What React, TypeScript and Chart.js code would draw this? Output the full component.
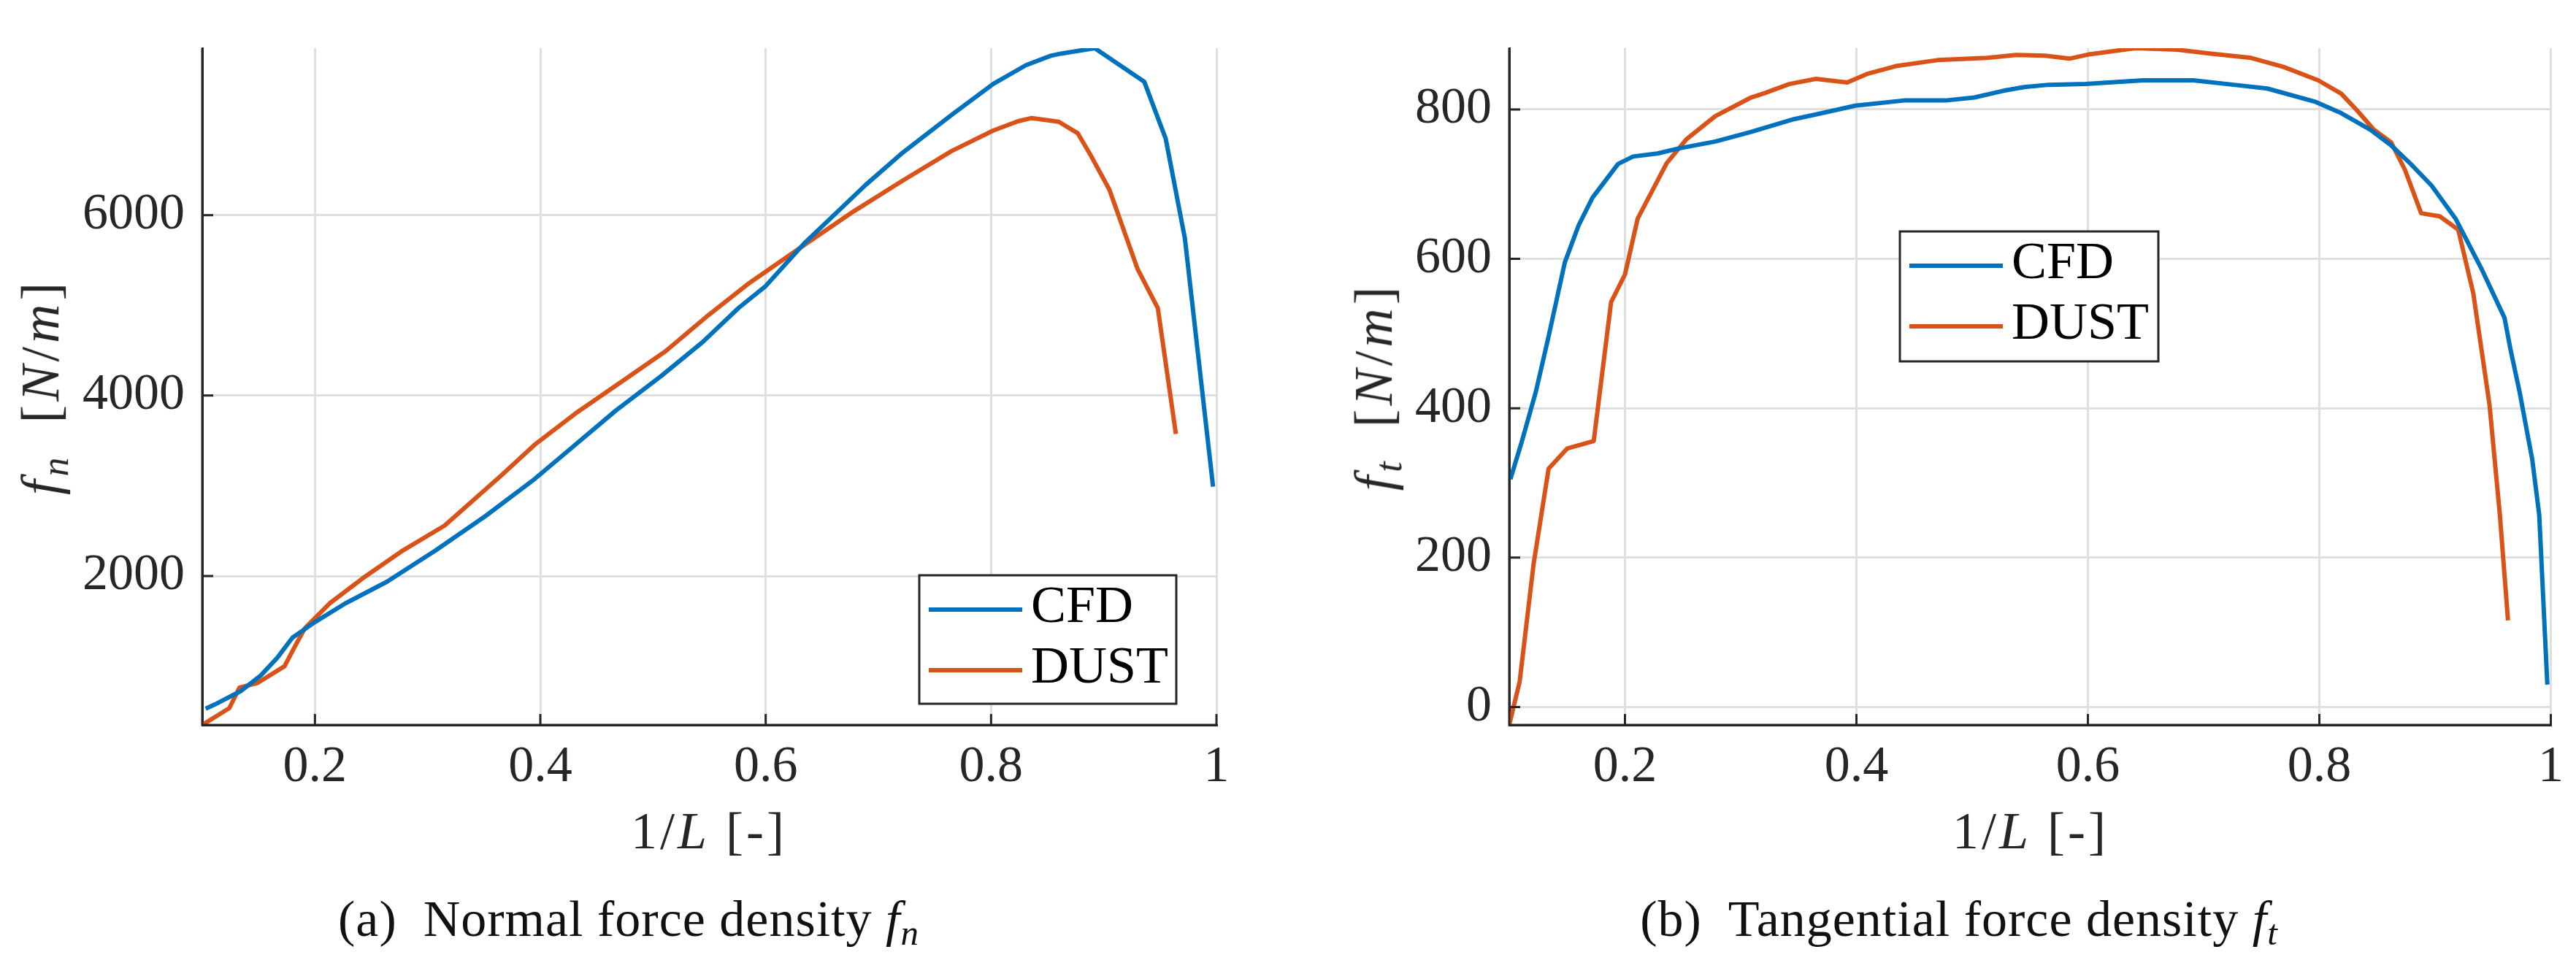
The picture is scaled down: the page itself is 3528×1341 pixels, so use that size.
import React, { useEffect, useRef } from "react";
import { Chart, registerables } from "chart.js";

Chart.register(...registerables);

// ---------- data ----------
const seriesLabels = ["CFD", "DUST"];
const xTicks = [0.2, 0.4, 0.6, 0.8, 1];
const fnYTicks = [2000, 4000, 6000];
const ftYTicks = [0, 200, 400, 600, 800];

// (a) normal force density
const fnCfdX = [0.103, 0.111, 0.134, 0.152, 0.167, 0.18, 0.2, 0.227, 0.264, 0.307, 0.351, 0.395, 0.431, 0.467, 0.507, 0.544, 0.576, 0.6, 0.635, 0.664, 0.689, 0.722, 0.765, 0.802, 0.831, 0.853, 0.862, 0.892, 0.936, 0.955, 0.972, 0.997];
const fnCfdY = [530, 576, 724, 899, 1101, 1317, 1490, 1697, 1938, 2283, 2662, 3076, 3455, 3834, 4214, 4593, 4972, 5214, 5697, 6041, 6338, 6697, 7110, 7455, 7662, 7766, 7790, 7850, 7477, 6846, 5742, 2990];
const fnDustX = [0.1, 0.124, 0.133, 0.149, 0.173, 0.182, 0.191, 0.213, 0.242, 0.278, 0.315, 0.365, 0.395, 0.431, 0.475, 0.511, 0.547, 0.584, 0.635, 0.678, 0.722, 0.765, 0.802, 0.824, 0.836, 0.86, 0.877, 0.889, 0.905, 0.93, 0.948, 0.964];
const fnDustY = [350, 536, 764, 815, 1000, 1214, 1421, 1697, 1972, 2283, 2559, 3110, 3455, 3800, 4179, 4490, 4869, 5234, 5676, 6041, 6386, 6710, 6938, 7041, 7076, 7035, 6906, 6650, 6282, 5403, 4968, 3575];

// (b) tangential force density
const ftCfdX = [0.101, 0.111, 0.123, 0.134, 0.148, 0.16, 0.172, 0.194, 0.207, 0.228, 0.247, 0.278, 0.309, 0.346, 0.37, 0.399, 0.441, 0.477, 0.502, 0.527, 0.545, 0.566, 0.598, 0.648, 0.691, 0.726, 0.755, 0.797, 0.819, 0.844, 0.862, 0.879, 0.897, 0.918, 0.94, 0.96, 0.965, 0.973, 0.984, 0.99, 0.997];
const ftCfdY = [305, 356, 422, 496, 595, 645, 682, 727, 737, 741, 748, 757, 770, 787, 795, 805, 812, 812, 816, 825, 830, 833, 834, 839, 839, 833, 828, 810, 795, 773, 752, 727, 698, 653, 587, 521, 480, 422, 331, 257, 30];
const ftDustX = [0.1, 0.109, 0.121, 0.134, 0.15, 0.173, 0.188, 0.2, 0.211, 0.236, 0.253, 0.278, 0.309, 0.321, 0.342, 0.365, 0.392, 0.41, 0.434, 0.47, 0.513, 0.538, 0.563, 0.584, 0.602, 0.641, 0.677, 0.705, 0.741, 0.769, 0.799, 0.819, 0.833, 0.847, 0.862, 0.874, 0.888, 0.904, 0.92, 0.933, 0.947, 0.956, 0.963];
const ftDustY = [-24, 34, 191, 319, 346, 356, 542, 579, 654, 728, 760, 791, 816, 822, 834, 841, 836, 848, 858, 866, 869, 873, 872, 868, 874, 882, 880, 875, 869, 857, 839, 821, 798, 773, 756, 719, 661, 657, 639, 554, 405, 257, 116];

// ---------- styling ----------
const PANEL_W = 1764;
const PANEL_H = 1341;
const FONT = "'Liberation Serif', 'DejaVu Serif', serif";
const AXIS_COLOR = "#262626";
const GRID_COLOR = "#dfdfdf";
const COLORS = ["#0072BD", "#D95319"];

const inwardTicks = {
  id: "inwardTicks",
  afterDatasetsDraw(chart: any) {
    const { ctx, chartArea } = chart;
    const xs = chart.scales.x;
    const ys = chart.scales.y;
    ctx.save();
    ctx.strokeStyle = AXIS_COLOR;
    ctx.lineWidth = 3;
    ctx.beginPath();
    for (const t of xs.ticks) {
      const px = xs.getPixelForValue(t.value);
      ctx.moveTo(px, chartArea.bottom);
      ctx.lineTo(px, chartArea.bottom - 15);
    }
    for (const t of ys.ticks) {
      const py = ys.getPixelForValue(t.value);
      ctx.moveTo(chartArea.left, py);
      ctx.lineTo(chartArea.left + 15, py);
    }
    ctx.moveTo(chartArea.left, chartArea.top);
    ctx.lineTo(chartArea.left, chartArea.bottom);
    ctx.lineTo(chartArea.right, chartArea.bottom);
    ctx.stroke();
    ctx.restore();
  },
};

const boxLegend = {
  id: "boxLegend",
  afterDatasetsDraw(chart: any, _args: any, opts: any) {
    const { ctx } = chart;
    const { x, y, w, h } = opts;
    ctx.save();
    ctx.fillStyle = "#ffffff";
    ctx.fillRect(x, y, w, h);
    ctx.strokeStyle = AXIS_COLOR;
    ctx.lineWidth = 3;
    ctx.strokeRect(x, y, w, h);
    const rows = [47, 130];
    chart.data.datasets.forEach((ds: any, i: number) => {
      const ly = y + rows[i];
      ctx.strokeStyle = ds.borderColor;
      ctx.lineWidth = 6;
      ctx.beginPath();
      ctx.moveTo(x + 13, ly);
      ctx.lineTo(x + 141, ly);
      ctx.stroke();
      ctx.fillStyle = "#000000";
      ctx.font = `72px ${FONT}`;
      ctx.textBaseline = "alphabetic";
      ctx.textAlign = "left";
      ctx.fillText(ds.label, x + 153, ly + 17);
    });
    ctx.restore();
  },
};

interface PanelSpec {
  cfdX: number[];
  cfdY: number[];
  dustX: number[];
  dustY: number[];
  yMin: number;
  yMax: number;
  yTicks: number[];
  plotLeft: number;
  plotRight: number;
  plotTop: number;
  plotBottom: number;
  legend: { x: number; y: number; w: number; h: number };
}

function buildConfig(p: PanelSpec): any {
  const tickFont = { family: FONT, size: 70 };
  return {
    type: "line",
    data: {
      datasets: [
        {
          label: seriesLabels[0],
          data: p.cfdX.map((x, i) => ({ x, y: p.cfdY[i] })),
          borderColor: COLORS[0],
          backgroundColor: COLORS[0],
          borderWidth: 6,
          pointRadius: 0,
          tension: 0,
          fill: false,
          borderJoinStyle: "round",
        },
        {
          label: seriesLabels[1],
          data: p.dustX.map((x, i) => ({ x, y: p.dustY[i] })),
          borderColor: COLORS[1],
          backgroundColor: COLORS[1],
          borderWidth: 6,
          pointRadius: 0,
          tension: 0,
          fill: false,
          borderJoinStyle: "round",
        },
      ],
    },
    options: {
      responsive: false,
      maintainAspectRatio: false,
      animation: false,
      layout: {
        padding: { top: p.plotTop, right: PANEL_W - p.plotRight, left: 0, bottom: 0 },
      },
      plugins: {
        legend: { display: false },
        tooltip: { enabled: false },
        boxLegend: p.legend,
      },
      scales: {
        x: {
          type: "linear",
          min: 0.1,
          max: 1,
          afterBuildTicks: (s: any) => {
            s.ticks = xTicks.map((v) => ({ value: v }));
          },
          afterFit: (s: any) => {
            s.height = PANEL_H - p.plotBottom;
          },
          ticks: {
            font: tickFont,
            color: AXIS_COLOR,
            padding: 17,
            maxRotation: 0,
            autoSkip: false,
            callback: (v: any) => String(v),
          },
          grid: { color: GRID_COLOR, lineWidth: 3, drawTicks: false },
          border: { display: true, color: AXIS_COLOR, width: 3 },
        },
        y: {
          type: "linear",
          min: p.yMin,
          max: p.yMax,
          afterBuildTicks: (s: any) => {
            s.ticks = p.yTicks.map((v) => ({ value: v }));
          },
          afterFit: (s: any) => {
            s.width = p.plotLeft;
          },
          ticks: {
            font: tickFont,
            color: AXIS_COLOR,
            padding: 24,
            autoSkip: false,
            callback: (v: any) => String(v),
          },
          grid: { color: GRID_COLOR, lineWidth: 3, drawTicks: false },
          border: { display: true, color: AXIS_COLOR, width: 3 },
        },
      },
    },
    plugins: [inwardTicks, boxLegend],
  };
}

function Panel({ left, spec }: { left: number; spec: PanelSpec }) {
  const ref = useRef<HTMLCanvasElement>(null);
  useEffect(() => {
    const chart = new Chart(ref.current as HTMLCanvasElement, buildConfig(spec));
    return () => chart.destroy();
  }, []);
  return (
    <canvas
      ref={ref}
      width={PANEL_W}
      height={PANEL_H}
      style={{ position: "absolute", left, top: 0, width: PANEL_W, height: PANEL_H }}
    />
  );
}

const sub = (t: string) => (
  <span style={{ fontSize: "0.7em", verticalAlign: "-0.25em", fontStyle: "italic" }}>{t}</span>
);

function XTitle({ cx }: { cx: number }) {
  return (
    <div
      style={{
        position: "absolute",
        left: cx,
        top: 1102,
        transform: "translateX(-50%)",
        fontSize: 72,
        lineHeight: 1,
        letterSpacing: 4,
        whiteSpace: "nowrap",
        color: AXIS_COLOR,
      }}
    >
      1/<i>L</i> [-]
    </div>
  );
}

function YTitle({ cx, s }: { cx: number; s: string }) {
  return (
    <div
      style={{
        position: "absolute",
        left: cx,
        top: 530,
        transform: "translate(-50%, -50%) rotate(-90deg)",
        fontSize: 74,
        lineHeight: 1,
        letterSpacing: 5,
        whiteSpace: "nowrap",
        color: AXIS_COLOR,
      }}
    >
      <i>f</i>
      {sub(s)}
      {"\u2002["}
      <i>N</i>/<i>m</i>]
    </div>
  );
}

function Caption({ cx, tag, text, s }: { cx: number; tag: string; text: string; s: string }) {
  return (
    <div
      style={{
        position: "absolute",
        left: cx,
        top: 1224,
        transform: "translateX(-50%)",
        fontSize: 70,
        lineHeight: 1,
        letterSpacing: 1,
        whiteSpace: "nowrap",
        color: "#111111",
      }}
    >
      {tag}
      {"\u2002"}
      {text} <i>f</i>
      {sub(s)}
    </div>
  );
}

export default function App() {
  const left: PanelSpec = {
    cfdX: fnCfdX,
    cfdY: fnCfdY,
    dustX: fnDustX,
    dustY: fnDustY,
    yMin: 350,
    yMax: 7850,
    yTicks: fnYTicks,
    plotLeft: 277,
    plotRight: 1666,
    plotTop: 64,
    plotBottom: 993,
    legend: { x: 1259, y: 788, w: 352, h: 176 },
  };
  const right: PanelSpec = {
    cfdX: ftCfdX,
    cfdY: ftCfdY,
    dustX: ftDustX,
    dustY: ftDustY,
    yMin: -24,
    yMax: 882,
    yTicks: ftYTicks,
    plotLeft: 303,
    plotRight: 1732,
    plotTop: 54,
    plotBottom: 993,
    legend: { x: 838, y: 317, w: 354, h: 178 },
  };
  return (
    <div
      style={{
        position: "absolute",
        left: 0,
        top: 0,
        width: 3528,
        height: 1341,
        background: "#ffffff",
        fontFamily: FONT,
        overflow: "hidden",
      }}
    >
      <Panel left={0} spec={left} />
      <Panel left={1764} spec={right} />
      <XTitle cx={971} />
      <XTitle cx={2781} />
      <YTitle cx={60} s="n" />
      <YTitle cx={1886} s="t" />
      <Caption cx={861} tag="(a)" text="Normal force density" s="n" />
      <Caption cx={2683} tag="(b)" text="Tangential force density" s="t" />
    </div>
  );
}
